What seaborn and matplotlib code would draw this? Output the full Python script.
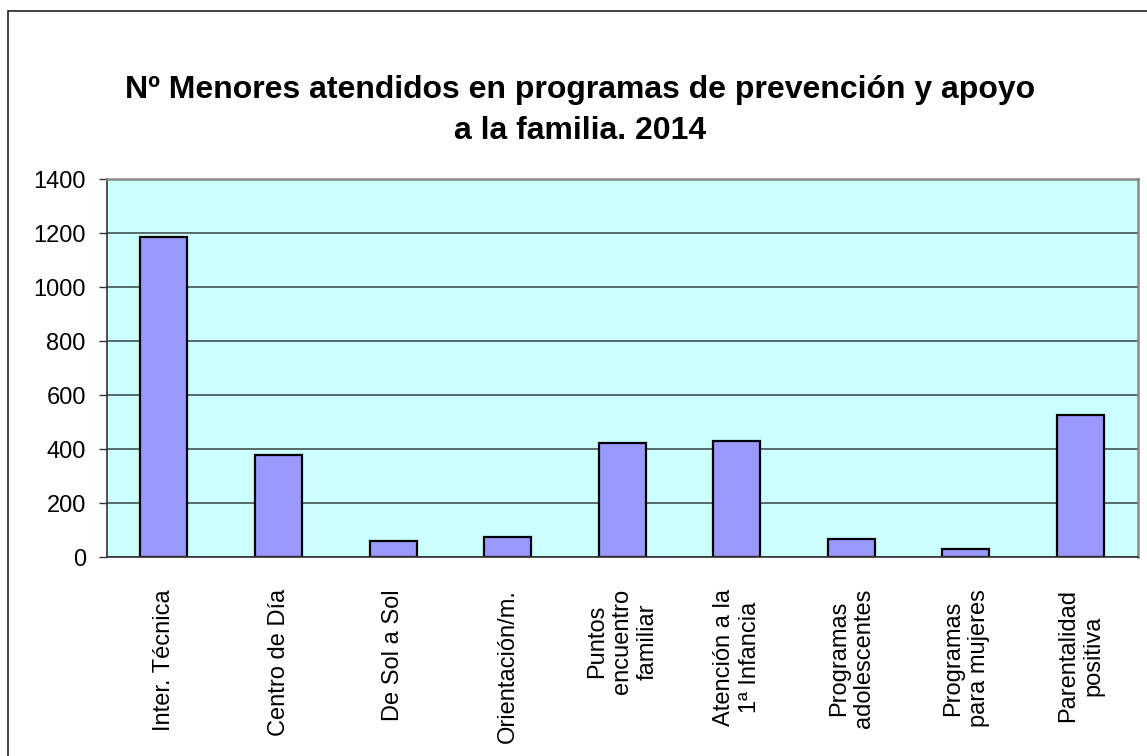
import pandas as pd
import matplotlib.pyplot as plt
import seaborn as sns
from matplotlib.patches import Rectangle

# Chart data
programas = [
    "Inter. Técnica",
    "Centro de Día",
    "De Sol a Sol",
    "Orientación/m.",
    "Puntos\nencuentro\nfamiliar",
    "Atención a la\n1ª Infancia",
    "Programas\nadolescentes",
    "Programas\npara mujeres",
    "Parentalidad\npositiva",
]
menores = [1185, 377, 59, 74, 422, 430, 67, 30, 526]
y_ticks = [0, 200, 400, 600, 800, 1000, 1200, 1400]

sns.set_style("white")
plt.rcParams["font.family"] = ["Liberation Sans", "DejaVu Sans"]
plt.rcParams["text.color"] = "black"
plt.rcParams["xtick.color"] = "black"
plt.rcParams["ytick.color"] = "black"

df = pd.DataFrame({"programa": programas, "menores": menores})

fig = plt.figure(figsize=(11.47, 7.56), dpi=100)
ax = fig.add_axes([0.093, 0.263, 0.899, 0.5])

sns.barplot(
    data=df,
    x="programa",
    y="menores",
    color="#9999FF",
    saturation=1,
    edgecolor="black",
    linewidth=1.6,
    width=0.41,
    ax=ax,
)

ax.set_facecolor("#CCFFFF")
ax.set_ylim(0, 1400)
ax.set_xlim(-0.5, len(programas) - 0.5)
ax.set_yticks(y_ticks)
ax.set_yticklabels([str(v) for v in y_ticks], fontsize=17)
ax.set_xlabel("")
ax.set_ylabel("")

# category labels, rotated and centered
ax.set_xticks(range(len(programas)))
ax.set_xticklabels(programas, rotation=90, fontsize=17, multialignment="center")
ax.tick_params(axis="x", which="major", length=0, pad=23)
ax.set_xticks([i - 0.5 for i in range(len(programas) + 1)], minor=True)
ax.tick_params(axis="x", which="minor", length=6, width=1, color="#333333", direction="out")
ax.tick_params(axis="y", length=6, width=1, color="#333333", direction="out", pad=9, left=True)

ax.yaxis.grid(True, color="#4f5f5f", linewidth=1.3)
ax.xaxis.grid(False)
ax.set_axisbelow(True)

for side in ["left", "bottom"]:
    ax.spines[side].set_color("#333333")
    ax.spines[side].set_linewidth(1.2)
for side in ["top", "right"]:
    ax.spines[side].set_color("#8a8a8a")
    ax.spines[side].set_linewidth(1.8)

fig.text(
    0.5057,
    0.854,
    "Nº Menores atendidos en programas de prevención y apoyo\na la familia. 2014",
    ha="center",
    va="center",
    fontsize=23,
    fontweight="bold",
    linespacing=1.5,
)

# outer chart border
fig.patches.append(
    Rectangle(
        (8 / 1147, -0.1),
        1.2,
        0.9854 + 0.1,
        transform=fig.transFigure,
        fill=False,
        edgecolor="#222222",
        linewidth=1.2,
    )
)

fig.savefig("out.png", dpi=100)
